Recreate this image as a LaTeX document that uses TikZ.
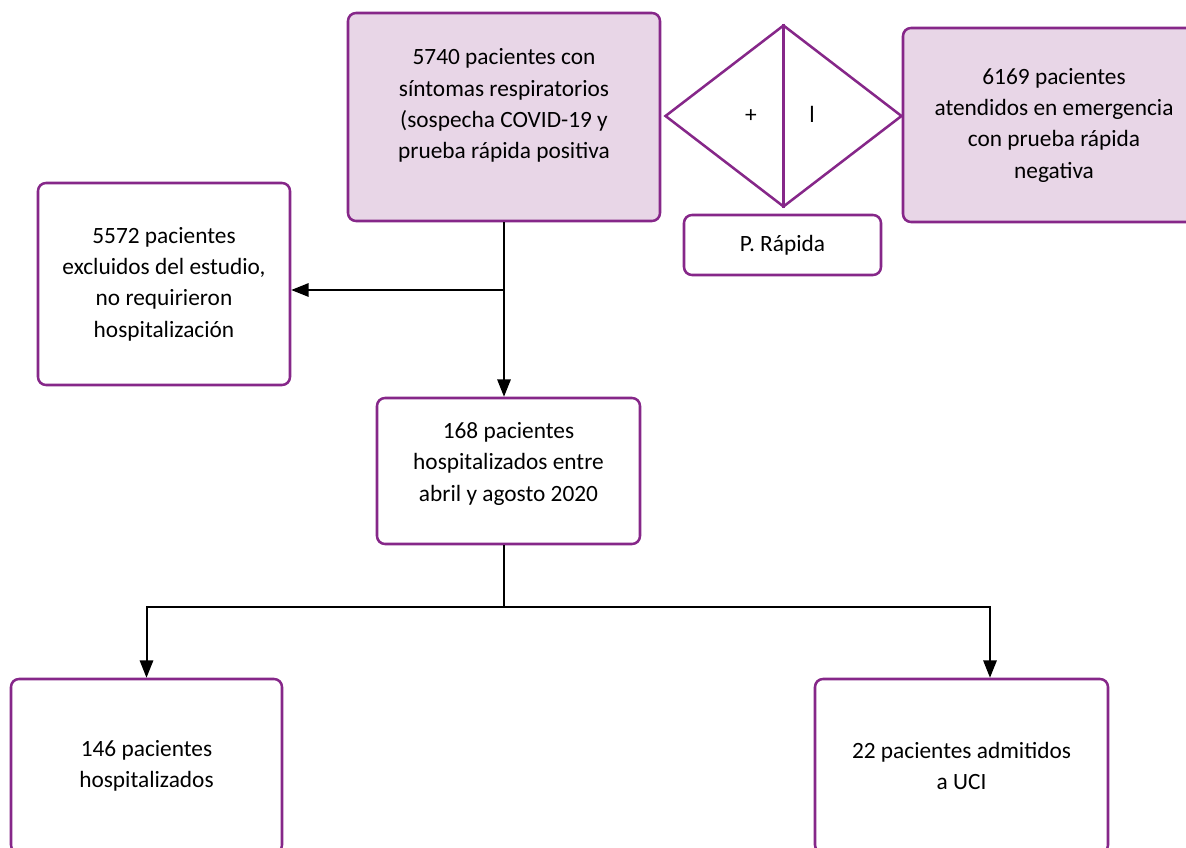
\documentclass[tikz,border=0pt]{standalone}
\usepackage{fontspec}
\setmainfont{Carlito}
\usetikzlibrary{arrows.meta,shapes.geometric}
\definecolor{boxline}{RGB}{134,39,137}
\definecolor{boxfill}{RGB}{232,214,231}
\tikzset{
  box/.style={draw=boxline, line width=1.9pt, rounded corners=6pt, align=center,
    font=\fontsize{17.5}{23.5}\selectfont, inner sep=4pt},
  shaded/.style={box, fill=boxfill},
  link/.style={line width=1.5pt, -{Triangle[length=13pt,width=10pt]}}
}

\begin{document}
\begin{tikzpicture}[x=0.75pt,y=0.75pt,yscale=-1,xscale=1]
    \useasboundingbox (0,0) rectangle (1186,848);

    %Shape: Rounded Rect [id:top] 
    \node (sint) [shaded, minimum width=234pt, minimum height=156pt, text depth=20pt] at (504,117)
      {5740 pacientes con\\síntomas respiratorios\\(sospecha COVID-19 y\\prueba rápida positiva};
    %Shape: Rounded Rect [id:neg] 
    \node (neg) [shaded, minimum width=226.5pt, minimum height=145.5pt] at (1054,125)
      {6169 pacientes\\atendidos en emergencia\\con prueba rápida\\negativa};
    %Shape: Diamond [id:test] 
    \node (rap) [diamond, draw=boxline, line width=1.9pt, minimum width=177.75pt, minimum height=136.5pt, inner sep=0pt] at (783.5,116) {};
    \draw [boxline, line width=1.9pt] (rap.north) -- (rap.south);
    % Text Node
    \node (pos) [font=\fontsize{17.5}{20}\selectfont] at (751,116) {+};
    % Text Node
    \node (nega) [font=\fontsize{17.5}{20}\selectfont] at (812,114) {l};
    %Shape: Rounded Rect [id:label] 
    \node (prap) [box, minimum width=147.75pt, minimum height=45pt] at (782.5,245) {P. Rápida};

    %Shape: Rounded Rect [id:excl] 
    \node (excl) [box, minimum width=189pt, minimum height=151.5pt] at (164,284)
      {5572 pacientes\\excluidos del estudio,\\no requirieron\\hospitalización};
    %Shape: Rounded Rect [id:hosp] 
    \node (hosp) [box, minimum width=197.25pt, minimum height=109.5pt, text depth=14pt] at (508.5,471)
      {168 pacientes\\hospitalizados entre\\abril y agosto 2020};

    %Shape: Rounded Rect [id:sala] 
    \node (sala) [box, minimum width=203.25pt, minimum height=130.5pt] at (146.5,766)
      {146 pacientes\\hospitalizados};
    %Shape: Rounded Rect [id:uci] 
    \node (uci) [box, minimum width=219.75pt, minimum height=130.5pt] at (961.5,766)
      {22 pacientes admitidos\\a UCI};

    % Connectors
    \coordinate (split) at (504,290);
    \coordinate (fork) at (504,607);
    \coordinate (forkR) at (990,607);
    \draw [link] (sint.south) -- (sint.south |- hosp.north);
    \draw [link] (split) -- (split -| excl.east);
    \draw [line width=1.5pt] (fork |- hosp.south) -- (fork);
    \draw [link] (fork) -| (sala.north);
    \draw [link] (fork) -- (forkR) -- (forkR |- uci.north);

\end{tikzpicture}
\end{document}
